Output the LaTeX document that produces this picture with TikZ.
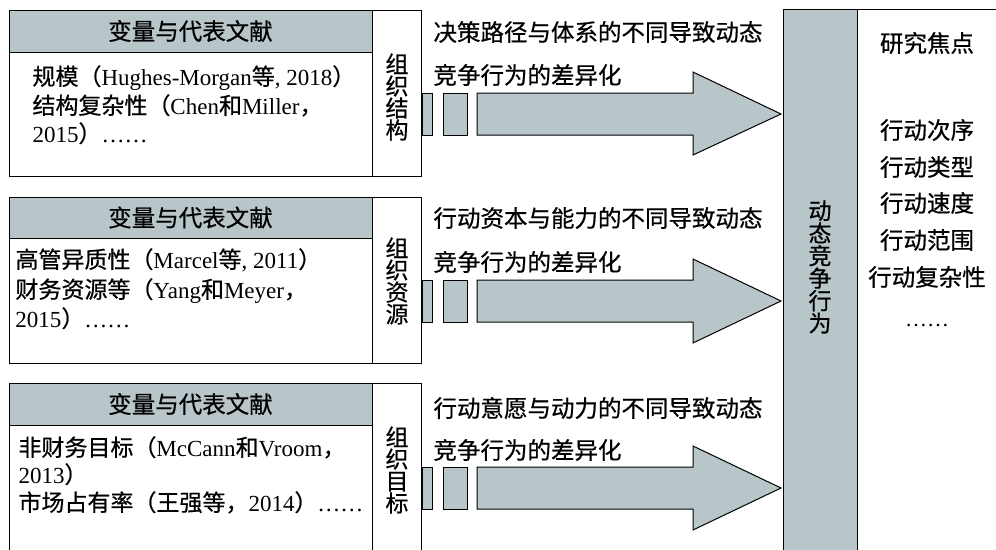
\documentclass[tikz,border=0pt]{standalone}
\usepackage{fontspec}
\setmainfont{Liberation Serif}
\newfontfamily\cjk{Noto Sans CJK SC}[FakeBold=0.6]
\newcommand\zh[1]{{\cjk #1}}
\newcommand\tightlines{\setlength{\lineskiplimit}{-30pt}\setlength{\lineskip}{0pt}}
\definecolor{fillc}{RGB}{184,198,201}
\begin{document}
\begin{tikzpicture}[x=1pt,y=-1pt,line width=1pt,
  frame/.style={draw=black,anchor=north west,inner sep=0pt,outer sep=0pt},
  head/.style={frame,fill=fillc,minimum width=363pt,font=\cjk\fontsize{23.5}{24}\selectfont},
  body/.style={frame,fill=white,minimum width=363pt},
  lab/.style={frame,fill=white,minimum width=49pt},
  vtext/.style={inner sep=0pt,align=center,font=\cjk\fontsize{23}{22}\selectfont\tightlines},
  ctext/.style={inner sep=0pt,anchor=base west,font=\fontsize{23}{23}\selectfont},
  atext/.style={inner sep=0pt,anchor=west,font=\cjk\fontsize{23.5}{24}\selectfont},
  rtext/.style={inner sep=0pt,font=\cjk\fontsize{23.5}{24}\selectfont},
  bigarrow/.style={draw=black,fill=fillc,line join=miter}]
\useasboundingbox (0,0) rectangle (996,549);
\clip (0,0) rectangle (996,549);
\fill[white] (0,0) rectangle (996,549);

% right columns
\node[frame,fill=fillc,minimum width=74pt,minimum height=600pt] (col) at (783,9) {};
\node[frame,fill=white,minimum width=200pt,minimum height=600pt] (focus) at (857,9) {};
\node[vtext,font=\cjk\fontsize{23}{22.5}\selectfont\tightlines] (coltxt) at (820,267) {动\\态\\竞\\争\\行\\为};
\node[rtext] (f0) at (927,43) {研究焦点};
\node[rtext] (f1) at (927,130) {行动次序};
\node[rtext] (f2) at (927,167) {行动类型};
\node[rtext] (f3) at (927,203) {行动速度};
\node[rtext] (f4) at (927,240) {行动范围};
\node[rtext] (f5) at (927,277) {行动复杂性};
\node[inner sep=0pt,anchor=base,font=\fontsize{22}{22}\selectfont] (f6) at (927,326) {……};

% block 1
\node[head,minimum height=42pt] (h1) at (9,10) {变量与代表文献};
\node[body,minimum height=124pt] (b1) at (9,52) {};
\node[lab,minimum height=166pt] (l1) at (372,10) {};
\node[vtext] (v1) at (397,97) {组\\织\\结\\构};
\node[ctext] (c11) at (32,85) {\zh{规模（}Hughes-Morgan\zh{等}, 2018\zh{）}};
\node[ctext] (c12) at (32,114) {\zh{结构复杂性（}Chen\zh{和}Miller\zh{，}};
\node[ctext] (c13) at (32,142) {2015\zh{）}……};
\node[atext] (a11) at (433,32) {决策路径与体系的不同导致动态};
\node[atext] (a12) at (433,75) {竞争行为的差异化};
\draw[bigarrow] (422,93) rectangle (432,135);
\draw[bigarrow] (443,93) rectangle (467,135);
\draw[bigarrow] (477,93) -- (693,93) -- (693,72) -- (781,114) -- (693,155) -- (693,135) -- (477,135) -- cycle;

% block 2
\node[head,minimum height=41pt] (h2) at (9,197) {变量与代表文献};
\node[body,minimum height=125pt] (b2) at (9,238) {};
\node[lab,minimum height=166pt] (l2) at (372,197) {};
\node[vtext] (v2) at (397,281) {组\\织\\资\\源};
\node[ctext] (c21) at (15,268) {\zh{高管异质性（}Marcel\zh{等}, 2011\zh{）}};
\node[ctext] (c22) at (15,298) {\zh{财务资源等（}Yang\zh{和}Meyer\zh{，}};
\node[ctext] (c23) at (15,327) {2015\zh{）}……};
\node[atext] (a21) at (433,218) {行动资本与能力的不同导致动态};
\node[atext] (a22) at (433,262) {竞争行为的差异化};
\draw[bigarrow] (422,280) rectangle (432,322);
\draw[bigarrow] (443,280) rectangle (467,322);
\draw[bigarrow] (477,280) -- (693,280) -- (693,259) -- (781,301) -- (693,343) -- (693,322) -- (477,322) -- cycle;

% block 3
\node[head,minimum height=42pt] (h3) at (9,383) {变量与代表文献};
\node[body,minimum height=200pt] (b3) at (9,425) {};
\node[lab,minimum height=242pt] (l3) at (372,383) {};
\node[vtext] (v3) at (397,470) {组\\织\\目\\标};
\node[ctext] (c31) at (18,456) {\zh{非财务目标（}McCann\zh{和}Vroom\zh{，}};
\node[ctext] (c32) at (18,483) {2013\zh{）}};
\node[ctext] (c33) at (18,511) {\zh{市场占有率（王强等，}2014\zh{）}……};
\node[atext] (a31) at (433,408) {行动意愿与动力的不同导致动态};
\node[atext] (a32) at (433,450) {竞争行为的差异化};
\draw[bigarrow] (422,467) rectangle (432,509);
\draw[bigarrow] (443,467) rectangle (467,509);
\draw[bigarrow] (477,467) -- (693,467) -- (693,446) -- (781,488) -- (693,530) -- (693,509) -- (477,509) -- cycle;
\end{tikzpicture}
\end{document}
